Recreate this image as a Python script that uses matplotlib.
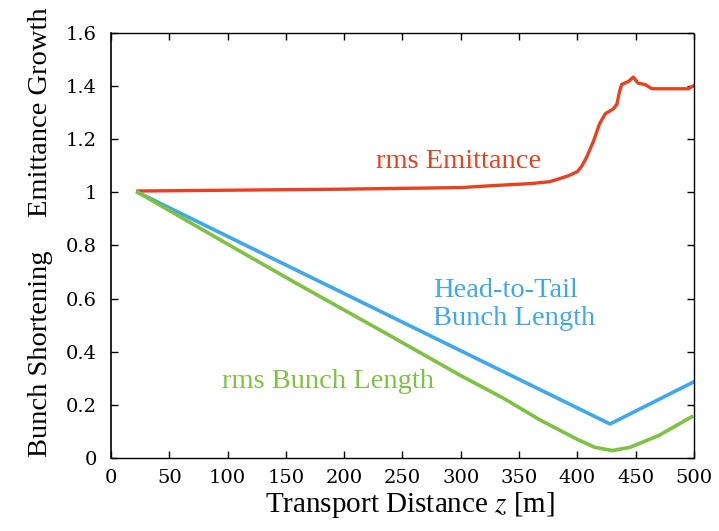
import matplotlib
matplotlib.use('Agg')
import matplotlib.pyplot as plt

plt.rcParams['font.family'] = ['Liberation Serif', 'DejaVu Serif']
plt.rcParams['mathtext.fontset'] = 'stix'

# rms emittance growth along the transport line
z_emit = [23, 100, 200, 300, 330, 360, 376, 385, 392, 400, 404, 408, 414, 419, 424,
          431, 434, 436, 438, 444, 448, 452, 458, 464, 480, 495, 500]
emit = [1.005, 1.008, 1.012, 1.018, 1.026, 1.033, 1.04, 1.052, 1.062, 1.078, 1.10,
        1.133, 1.195, 1.258, 1.296, 1.315, 1.333, 1.377, 1.406, 1.418, 1.434, 1.411,
        1.406, 1.39, 1.39, 1.39, 1.402]

# head-to-tail bunch length (normalised)
z_h2t = [23, 428, 500]
h2t = [1.0, 0.128, 0.287]

# rms bunch length (normalised)
z_rms = [23, 100, 162, 231, 300, 337, 368, 400, 415, 430, 445, 470, 498]
rms = [1.0, 0.805, 0.65, 0.481, 0.31, 0.224, 0.143, 0.07, 0.04, 0.028, 0.04, 0.085, 0.155]

red = '#ec3f1f'
blue = '#3ea8ec'
green = '#7dc241'

fig = plt.figure(figsize=(7.19, 5.31), dpi=100)
ax = fig.add_axes([0.1544, 0.1375, 0.9652 - 0.1544, 0.9379 - 0.1375])

ax.plot(z_emit, emit, '-', color=red, lw=2.4)
ax.plot(z_h2t, h2t, '-', color=blue, lw=2.6)
ax.plot(z_rms, rms, '-', color=green, lw=2.6)

ax.set_xlim(0, 500)
ax.set_ylim(0, 1.6)
ax.set_xticks(range(0, 501, 50))
ax.set_yticks([0, 0.2, 0.4, 0.6, 0.8, 1.0, 1.2, 1.4, 1.6])
ax.set_yticklabels(['0', '0.2', '0.4', '0.6', '0.8', '1', '1.2', '1.4', '1.6'])
ax.tick_params(direction='in', length=5, width=1, top=True, right=True)
ax.tick_params(axis='y', pad=10)
ax.tick_params(axis='x', pad=8)
for lab in ax.get_xticklabels() + ax.get_yticklabels():
    lab.set_family('DejaVu Serif')
    lab.set_fontsize(14)

for side in ['top', 'right', 'bottom']:
    ax.spines[side].set_linestyle((0, (2, 1)))
    ax.spines[side].set_linewidth(1.0)
ax.spines['left'].set_linewidth(1.2)

ax.set_xlabel('Transport Distance $z$ [m]', fontsize=21, labelpad=4)
ax.xaxis.set_label_coords(0.513, -0.075)

# two stacked y-axis titles
fig.text(0.056, 0.789, 'Emittance Growth', rotation=90, fontsize=20.5,
         ha='center', va='center')
fig.text(0.056, 0.333, 'Bunch Shortening', rotation=90, fontsize=20.5,
         ha='center', va='center')

ax.text(298, 1.09, 'rms Emittance', color=red, fontsize=20.5,
        ha='center', va='baseline')
ax.text(276, 0.606, 'Head-to-Tail', color=blue, fontsize=20.5,
        ha='left', va='baseline')
ax.text(276, 0.50, 'Bunch Length', color=blue, fontsize=20.5,
        ha='left', va='baseline')
ax.text(95, 0.263, 'rms Bunch Length', color=green, fontsize=20.5,
        ha='left', va='baseline')

fig.savefig('out.png', dpi=100)
